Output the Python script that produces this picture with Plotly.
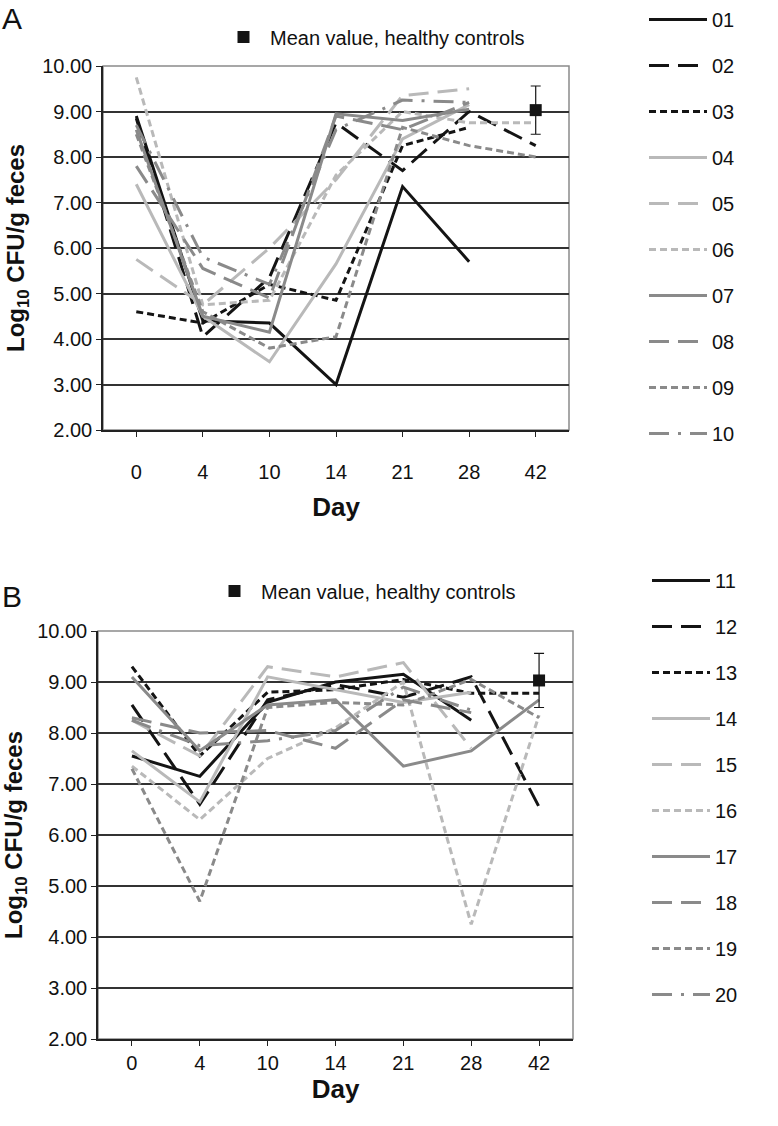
import plotly.graph_objects as go

days = ["0", "4", "10", "14", "21", "28", "42"]

# Panel A: patients 01-10
a_names = ["01", "02", "03", "04", "05", "06", "07", "08", "09", "10"]
a01 = [8.90, 4.40, 4.35, 3.00, 7.35, 5.70, None]
a02 = [8.85, 4.05, 5.35, 8.75, 7.70, 9.00, 8.25]
a03 = [4.60, 4.35, 5.20, 4.85, 8.25, 8.65, None]
a04 = [7.40, 4.50, 3.50, 5.65, 8.40, 9.15, None]
a05 = [5.75, 4.75, 6.00, 7.50, 9.35, 9.50, None]
a06 = [9.75, 4.75, 4.85, 7.60, 9.00, 8.75, 8.75]
a07 = [8.60, 4.50, 4.15, 8.95, 8.80, 9.05, None]
a08 = [7.80, 5.55, 4.90, 8.90, 8.60, 9.20, None]
a09 = [8.50, 4.60, 3.80, 4.05, 8.65, 8.25, 8.00]
a10 = [8.70, 5.80, 5.20, 8.60, 9.25, 9.20, None]
a_values = [a01, a02, a03, a04, a05, a06, a07, a08, a09, a10]

# Panel B: patients 11-20
b_names = ["11", "12", "13", "14", "15", "16", "17", "18", "19", "20"]
b11 = [7.55, 7.15, 8.60, 9.00, 9.15, 8.25, None]
b12 = [8.55, 6.60, 8.65, 8.95, 8.70, 9.10, 6.55]
b13 = [9.30, 7.55, 8.80, 8.85, 9.05, 8.78, 8.78]
b14 = [7.65, 6.65, 9.10, 8.85, 8.60, 8.80, None]
b15 = [8.25, 7.55, 9.30, 9.10, 9.38, 7.70, None]
b16 = [7.35, 6.30, 7.50, 8.10, 9.00, 4.25, 8.35]
b17 = [9.10, 7.65, 8.55, 8.65, 7.35, 7.65, 8.65]
b18 = [8.30, 8.00, 8.05, 7.70, 8.65, 8.40, None]
b19 = [7.30, 4.70, 8.50, 8.60, 8.55, 9.05, 8.30]
b20 = [8.25, 7.75, 7.85, 8.05, 8.90, 8.45, None]
b_values = [b11, b12, b13, b14, b15, b16, b17, b18, b19, b20]

# Healthy controls
control_day = ["42"]
control_mean = [9.03]
control_err_plus = [0.53]
control_err_minus = [0.53]

BLACK = "#141414"
LIGHT = "#b9b9b9"
MID = "#8a8a8a"
LONG = "20px,9px"
SHORT = "7px,4px"
DASHDOT = "20px,9px,3px,9px"
styles = [
    (BLACK, "solid"), (BLACK, LONG), (BLACK, SHORT),
    (LIGHT, "solid"), (LIGHT, LONG), (LIGHT, SHORT),
    (MID, "solid"), (MID, LONG), (MID, SHORT),
    (MID, DASHDOT),
]

FONT = "Liberation Sans, Arial, sans-serif"
W, H = 778, 1126

fig = go.Figure()

def add_panel(names, values, xa, ya, legend_id, mean_legend_id):
    for i, (nm, vals) in enumerate(zip(names, values)):
        col, dash = styles[i]
        fig.add_trace(go.Scatter(
            x=days, y=vals, mode="lines", name=nm,
            line=dict(color=col, width=3, dash=dash),
            xaxis=xa, yaxis=ya, legend=legend_id, legendgroup=legend_id + nm,
            connectgaps=False,
        ))
    fig.add_trace(go.Scatter(
        x=control_day, y=control_mean, mode="markers",
        name="Mean value, healthy controls",
        marker=dict(symbol="square", size=12, color=BLACK),
        error_y=dict(type="data", array=control_err_plus, arrayminus=control_err_minus,
                     color=BLACK, thickness=1.2, width=5),
        xaxis=xa, yaxis=ya, legend=mean_legend_id,
    ))

add_panel(a_names, a_values, "x", "y", "legend", "legend3")
add_panel(b_names, b_values, "x2", "y2", "legend2", "legend4")

def px_x(p):
    return p / W

def px_y(p):
    return 1 - p / H

def y_axis(domain, anchor):
    return dict(
        domain=domain, anchor=anchor,
        range=[2, 10], dtick=1, tickformat=".2f",
        showgrid=True, gridcolor="#333333", gridwidth=1.5,
        showline=True, linecolor="#222", linewidth=1.5,
        ticks="outside", ticklen=5, tickcolor="#222",
        tickfont=dict(family=FONT, size=20, color="#111"),
        zeroline=False, automargin=False,
        title=dict(text="<b>Log<sub>10</sub> CFU/g feces</b>",
                   font=dict(family=FONT, size=24, color="#111"), standoff=11),
    )

def x_axis(domain, anchor, label_standoff, title_standoff):
    return dict(
        domain=domain, anchor=anchor,
        type="category", categoryorder="array", categoryarray=days,
        range=[-0.5, 6.5],
        showgrid=False, showline=True, linecolor="#222", linewidth=1.5,
        ticks="outside", ticklen=5, tickcolor="#222",
        ticklabelstandoff=label_standoff,
        tickfont=dict(family=FONT, size=20, color="#111"),
        automargin=False,
        title=dict(text="<b>Day</b>", font=dict(family=FONT, size=26, color="#111"),
                   standoff=title_standoff),
    )

leg_font = dict(family=FONT, size=20, color="#111")

fig.update_layout(
    width=W, height=H,
    margin=dict(l=0, r=0, t=0, b=0),
    paper_bgcolor="white", plot_bgcolor="white",
    font=dict(family=FONT, size=20, color="#111"),
    xaxis=x_axis([px_x(103), px_x(569)], "y", 18, 16),
    yaxis=y_axis([px_y(430), px_y(66)], "x"),
    xaxis2=x_axis([px_x(98), px_x(573)], "y2", 0, 1),
    yaxis2=y_axis([px_y(1039), px_y(631)], "x2"),
    legend=dict(x=px_x(644), y=px_y(0), xanchor="left", yanchor="top",
                traceorder="grouped", tracegroupgap=17, itemwidth=58,
                font=leg_font, bgcolor="rgba(0,0,0,0)"),
    legend2=dict(x=px_x(647), y=px_y(561), xanchor="left", yanchor="top",
                 traceorder="grouped", tracegroupgap=17, itemwidth=58,
                 font=leg_font, bgcolor="rgba(0,0,0,0)"),
    legend3=dict(x=px_x(217), y=px_y(37), xanchor="left", yanchor="middle",
                 itemwidth=43, font=leg_font, bgcolor="rgba(0,0,0,0)"),
    legend4=dict(x=px_x(208), y=px_y(591), xanchor="left", yanchor="middle",
                 itemwidth=43, font=leg_font, bgcolor="rgba(0,0,0,0)"),
    showlegend=True,
)

# gray plot frames
fig.add_shape(type="rect", xref="x domain", yref="y domain", x0=0, x1=1, y0=0, y1=1,
              line=dict(color="#8a8a8a", width=1.5), layer="below")
fig.add_shape(type="rect", xref="x2 domain", yref="y2 domain", x0=0, x1=1, y0=0, y1=1,
              line=dict(color="#8a8a8a", width=1.5), layer="below")

fig.add_annotation(text="A", x=0, y=px_y(0), xref="paper", yref="paper",
                   xanchor="left", yanchor="top", showarrow=False,
                   font=dict(family=FONT, size=30, color="#111"))
fig.add_annotation(text="B", x=0, y=px_y(578), xref="paper", yref="paper",
                   xanchor="left", yanchor="top", showarrow=False,
                   font=dict(family=FONT, size=30, color="#111"))

fig.write_html("out.html", config={"displayModeBar": False},
               post_script="document.body.style.margin='0';document.body.style.overflow='hidden';")
